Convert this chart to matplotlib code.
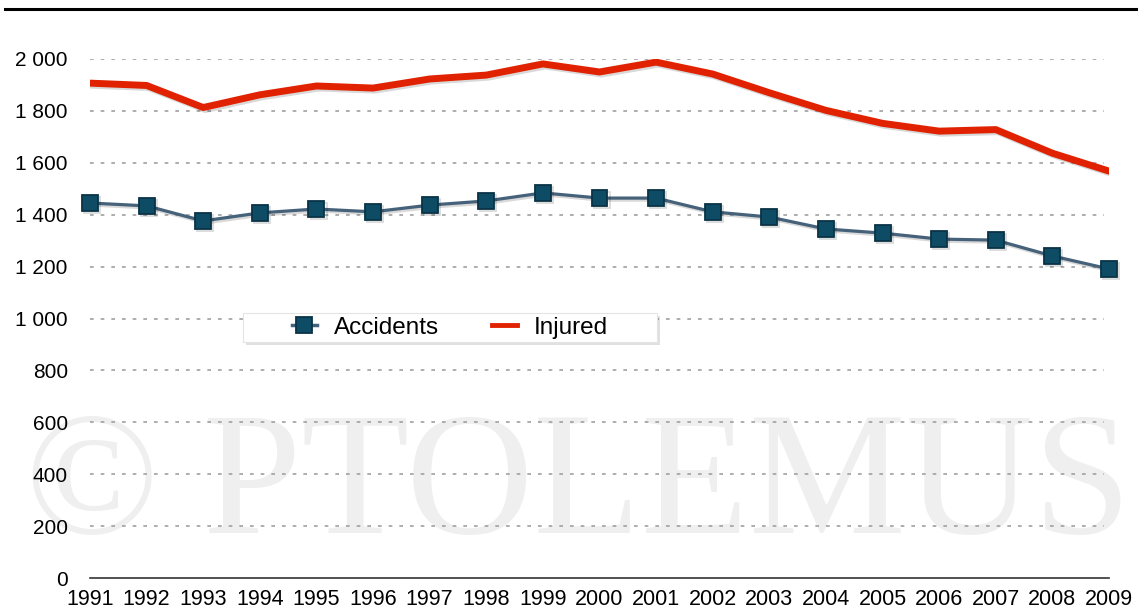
import matplotlib.pyplot as plt
import matplotlib.patheffects as pe
from matplotlib.patches import Rectangle

plt.rcParams['font.family'] = ['Liberation Sans', 'DejaVu Sans']

# ----------------------
# Data
# ----------------------
years = list(range(1991, 2010))
accidents = [1445, 1434, 1376, 1407, 1422, 1411, 1437, 1453, 1484, 1464,
             1464, 1411, 1391, 1345, 1329, 1306, 1302, 1241, 1191]
injured = [1907, 1898, 1813, 1862, 1896, 1888, 1923, 1938, 1981, 1950,
           1988, 1942, 1870, 1802, 1752, 1722, 1728, 1637, 1568]
yticks = [0, 200, 400, 600, 800, 1000, 1200, 1400, 1600, 1800, 2000]
ytick_labels = ['0', '200', '400', '600', '800', '1 000', '1 200',
                '1 400', '1 600', '1 800', '2 000']

# ----------------------
# Figure
# ----------------------
W, H = 1138, 609
fig = plt.figure(figsize=(W / 100, H / 100), dpi=100)
ax = fig.add_axes([90 / W, 1 - 578 / H, 1019 / W, 519 / H])

# watermark, behind everything
fig.text(0.508, 1 - 533 / H, '\u00a9 PTOLEMUS', family='Liberation Serif',
         fontsize=127, color='#efefef', ha='center', va='baseline', zorder=-5)

# top rule
fig.add_artist(plt.Line2D([5 / W, 1.0], [1 - 9 / H, 1 - 9 / H],
                          color='black', lw=2.2, transform=fig.transFigure))

shadow = [pe.SimpleLineShadow(offset=(1.5, -1.5), alpha=0.15), pe.Normal()]

ax.plot(years, injured, color='#e02200', lw=5, label='Injured',
        solid_joinstyle='round', path_effects=shadow, zorder=3)
ax.plot(years, accidents, color='#45627a', lw=2.3, marker='s', markersize=11.5,
        markerfacecolor='#0e4c66', markeredgecolor='#0a3346', markeredgewidth=1.3,
        label='Accidents', path_effects=shadow, zorder=4, clip_on=False)

ax.set_xlim(1991, 2009)
ax.set_ylim(0, 2000)
ax.set_yticks(yticks)
ax.set_yticklabels(ytick_labels)
ax.set_xticks(years)
ax.tick_params(axis='both', length=0, labelsize=15, colors='black')
ax.tick_params(axis='y', pad=16)
ax.tick_params(axis='x', pad=8, labelsize=15.5)

for y in yticks[1:]:
    ax.axhline(y, color='#a0a0a0', lw=1.2, linestyle=(0, (2.2, 4.2)),
               xmax=0.995, zorder=1)

for s in ['top', 'right', 'left']:
    ax.spines[s].set_visible(False)
ax.spines['bottom'].set_color('#333333')
ax.spines['bottom'].set_linewidth(1.2)
ax.patch.set_alpha(0)

# legend box with soft shadow
bx0, by0, bw, bh = 243 / W, 1 - 342 / H, 414 / W, 29 / H
fig.add_artist(Rectangle((bx0 + 3 / W, by0 - 3 / H), bw, bh, transform=fig.transFigure,
                         facecolor='#000000', alpha=0.12, edgecolor='none', zorder=5))
fig.add_artist(Rectangle((bx0, by0), bw, bh, transform=fig.transFigure,
                         facecolor='white', edgecolor='#e4e4e4', lw=0.8, zorder=6))

handles, labels = ax.get_legend_handles_labels()
leg = fig.legend(handles[::-1], labels[::-1], loc='center', ncol=2,
                 bbox_to_anchor=(bx0 + bw / 2, by0 + bh / 2),
                 fontsize=17.5, frameon=False,
                 columnspacing=2.2, handlelength=1.0, handletextpad=0.7,
                 borderpad=0, borderaxespad=0)
leg.set_zorder(7)
for h in leg.get_lines():
    h.set_path_effects([])
leg.get_lines()[0].set_linewidth(2.5)
leg.get_lines()[1].set_linewidth(3.5)

fig.savefig('out.png', dpi=100)
